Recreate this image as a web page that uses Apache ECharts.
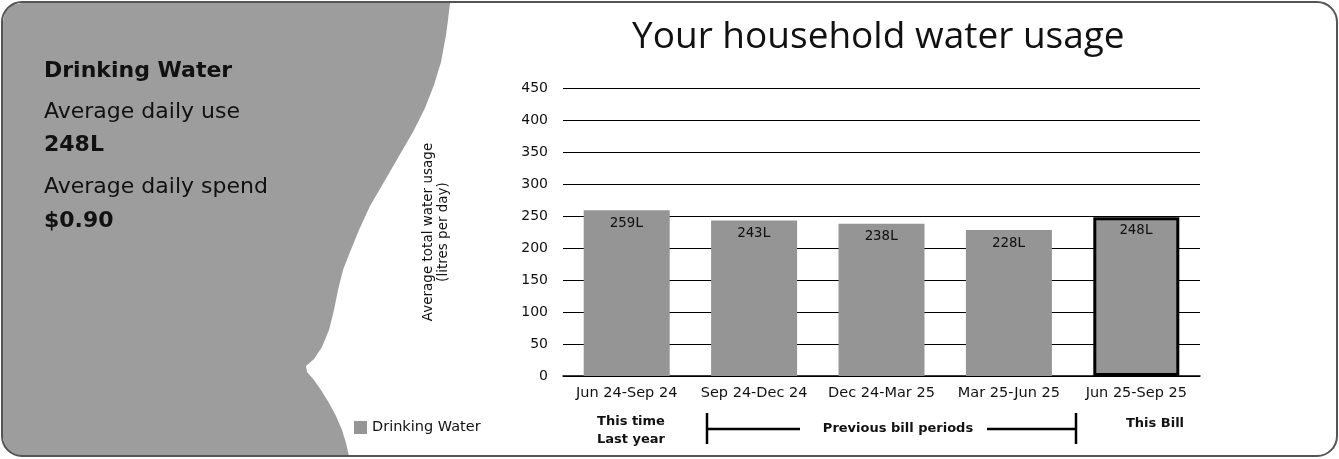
<!DOCTYPE html>
<html><head><meta charset="utf-8">
<script src="https://cdn.jsdelivr.net/npm/echarts@6/dist/echarts.min.js"></script>
<style>html,body{margin:0;padding:0;background:#fff}#c{width:1339px;height:459px}</style>
</head><body><div id="c"></div>
<script>
const categories = ['Jun 24-Sep 24','Sep 24-Dec 24','Dec 24-Mar 25','Mar 25-Jun 25','Jun 25-Sep 25'];
const usage = [259, 243, 238, 228, 248];
const yTicks = [0, 50, 100, 150, 200, 250, 300, 350, 400, 450];
const seriesName = 'Drinking Water';
const summary = ['Drinking Water', 'Average daily use', '248L', 'Average daily spend', '$0.90'];
const periodNotes = ['This time\nLast year', 'Previous bill periods', 'This Bill'];

const chart = echarts.init(document.getElementById('c'), null, {renderer:'canvas'});
const FONT = 'DejaVu Sans';
const grey = '#959595';
const data = usage.map((v,i)=> i === usage.length-1
  ? {value:v, itemStyle:{borderColor:'#000', borderWidth:3}} : v);

const panelPts = [[3,22],[5,12],[12,5],[22,3],[450,3],[448,20],[446,35],[441,62],[434,85],[425,108],[413,132],[399,156],[384,182],[370,206],[359,230],[350,252],[343,270],[338,290],[334,310],[329,330],[322,347],[314,359],[306,366],[307,372],[314,380],[321,390],[329,403],[336,416],[342,430],[346,443],[349,456],[22,456],[12,454],[5,447],[3,437]];

const leftText = (i, y, bold) => ({type:'text', x:44, y:y,
  style:{text:summary[i], font:(bold?'bold ':'')+'22px "DejaVu Sans"', fill:'#111', verticalAlign:'middle'}});

chart.setOption({
  animation:false,
  textStyle:{fontFamily:FONT},
  title:{text:'Your household water usage', left:627, top:14,
    textStyle:{fontFamily:'Open Sans', fontWeight:400, fontSize:37, color:'#111'}},
  legend:{data:[seriesName], left:349, top:415, itemWidth:13, itemHeight:13, icon:'rect', itemGap:8,
    textStyle:{fontFamily:FONT, fontSize:14.5, color:'#111'}},
  grid:{left:563, right:139, top:88, bottom:83},
  xAxis:{type:'category', data:categories,
    axisLine:{lineStyle:{color:'#000', width:1.5}}, axisTick:{show:false},
    axisLabel:{color:'#111', fontSize:14.5, margin:10, fontFamily:FONT, interval:0}},
  yAxis:{type:'value', min:yTicks[0], max:yTicks[yTicks.length-1], interval:50,
    name:'Average total water usage\n(litres per day)', nameLocation:'middle', nameGap:112,
    nameTextStyle:{fontFamily:FONT, fontSize:13.5, color:'#111', lineHeight:15},
    axisLine:{show:false}, axisTick:{show:false},
    axisLabel:{color:'#111', fontSize:14, margin:15, fontFamily:FONT},
    splitLine:{lineStyle:{color:'#000', width:1.2}}},
  series:[{name:seriesName, type:'bar', data:data, barWidth:86,
    itemStyle:{color:grey},
    label:{show:true, position:'insideTop', offset:[0,1], formatter:p=>p.value+'L',
      color:'#111', fontSize:14, fontFamily:'DejaVu Sans Mono'}}],
  graphic:[
    {type:'polygon', z:-10, shape:{points:panelPts}, style:{fill:'#9d9d9d'}},
    {type:'rect', z:-5, shape:{x:2, y:2, width:1335, height:454, r:20}, style:{fill:'none', stroke:'#555', lineWidth:2}},
    leftText(0, 71, true),
    leftText(1, 112.5, false),
    leftText(2, 145.5, true),
    leftText(3, 187, false),
    leftText(4, 221, true),
    {type:'text', x:631, y:431, style:{text:periodNotes[0], font:'bold 13px "DejaVu Sans"', fill:'#111', align:'center', verticalAlign:'middle', lineHeight:18}},
    {type:'text', x:898, y:429, style:{text:periodNotes[1], font:'bold 13px "DejaVu Sans"', fill:'#111', align:'center', verticalAlign:'middle'}},
    {type:'text', x:1155, y:424, style:{text:periodNotes[2], font:'bold 13px "DejaVu Sans"', fill:'#111', align:'center', verticalAlign:'middle'}},
    {type:'line', shape:{x1:707, y1:413, x2:707, y2:444}, style:{stroke:'#000', lineWidth:2.5}},
    {type:'line', shape:{x1:707, y1:429, x2:800, y2:429}, style:{stroke:'#000', lineWidth:2.5}},
    {type:'line', shape:{x1:987, y1:429, x2:1076, y2:429}, style:{stroke:'#000', lineWidth:2.5}},
    {type:'line', shape:{x1:1076, y1:413, x2:1076, y2:444}, style:{stroke:'#000', lineWidth:2.5}}
  ]
});
</script></body></html>
